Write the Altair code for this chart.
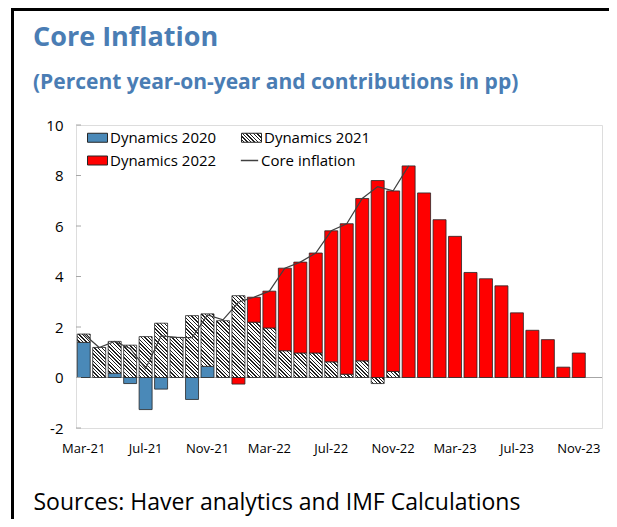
import json
import altair as alt

# ---------------- data ----------------
months = ["Mar-21", "Apr-21", "May-21", "Jun-21", "Jul-21", "Aug-21", "Sep-21", "Oct-21",
          "Nov-21", "Dec-21", "Jan-22", "Feb-22", "Mar-22", "Apr-22", "May-22", "Jun-22",
          "Jul-22", "Aug-22", "Sep-22", "Oct-22", "Nov-22", "Dec-22", "Jan-23", "Feb-23",
          "Mar-23", "Apr-23", "May-23", "Jun-23", "Jul-23", "Aug-23", "Sep-23", "Oct-23",
          "Nov-23", "Dec-23"]
tick_labels = ["Mar-21", "Jul-21", "Nov-21", "Mar-22", "Jul-22", "Nov-22", "Mar-23", "Jul-23", "Nov-23"]
y_ticks = [-2, 0, 2, 4, 6, 8, 10]
series_names = ["Dynamics 2020", "Dynamics 2021", "Dynamics 2022"]
line_name = "Core inflation"

# Mar-21 .. Dec-22
dyn2020 = [1.39, 0.00, 0.17, -0.24, -1.27, -0.46, 0.00, -0.87, 0.44, 0.00, 0.00,
           0.00, 0.00, 0.00, 0.00, 0.00, 0.00, 0.00, 0.00, 0.00, 0.00, 0.00]
dyn2021 = [0.33, 1.19, 1.26, 1.28, 1.62, 2.15, 1.59, 2.45, 2.08, 2.25, 3.24,
           2.19, 1.96, 1.06, 0.97, 0.97, 0.62, 0.13, 0.66, -0.24, 0.24, 0.00]
# Mar-21 .. Nov-23
dyn2022 = [0.00, 0.00, 0.00, 0.00, 0.00, 0.00, 0.00, 0.00, 0.00, 0.00, -0.26,
           0.99, 1.46, 3.27, 3.60, 3.96, 5.19, 5.96, 6.43, 7.80, 7.15, 8.38,
           7.31, 6.25, 5.59, 4.16, 3.91, 3.63, 2.56, 1.87, 1.50, 0.41, 0.97]
# Mar-21 .. Dec-22
core = [1.72, 1.19, 1.43, 1.15, 0.35, 1.65, 1.59, 1.58, 2.48, 2.28, 2.98,
        3.18, 3.42, 4.33, 4.57, 4.93, 5.81, 6.09, 7.09, 7.56, 7.39, 8.38]

# ---------------- style ----------------
FONT = "Open Sans"
BLUE = "#4a89b8"
RED = "#ff0000"
EDGE = "#262626"
TITLE_COLOR = "#4a7db4"
W, H = 526, 303
PX_PER_UNIT = H / 12.0
BAR_W = 13.0


def hatch(w, h, d=3.6, lw=1.4):
    """Diagonal (\\) hatch as a bbox-relative linear gradient."""
    r = h / w
    a = (1 + r) / (1 + r * r)
    total = w + h
    stops = [{"offset": 0, "color": "#ffffff"}]
    c = d / 2.0
    while c < total:
        o1 = round(c / total, 4)
        o2 = round(min((c + lw) / total, 1.0), 4)
        stops += [{"offset": o1, "color": "#ffffff"}, {"offset": o1, "color": "#202020"},
                  {"offset": o2, "color": "#202020"}, {"offset": o2, "color": "#ffffff"}]
        c += d
    stops.append({"offset": 1, "color": "#ffffff"})
    return {"gradient": "linear", "x1": 0, "y1": 1,
            "x2": round(a, 4), "y2": round(1 - a * r, 4), "stops": stops}


colors = [BLUE, None, RED]
bars = []
for i, m in enumerate(months):
    for k, arr in enumerate([dyn2020, dyn2021, dyn2022]):
        if i < len(arr) and arr[i] != 0:
            v = arr[i]
            fill = hatch(BAR_W, abs(v) * PX_PER_UNIT) if k == 1 else colors[k]
            bars.append({"month": m, "series": series_names[k], "value": v, "ord": k, "fill": fill})

line_rows = [{"month": months[i], "core": v, "name": line_name} for i, v in enumerate(core)]

legend_hatch = alt.ExprRef(expr=json.dumps(hatch(20, 9)))

# ---------------- scales / axes ----------------
xscale = alt.Scale(domain=months, paddingInner=0.16, paddingOuter=0.08)
yscale = alt.Scale(domain=[-2, 10], nice=False, zero=False)

xaxis = alt.Axis(values=tick_labels, labelAngle=0, ticks=False, tickSize=0, domain=False, grid=False,
                 labelFont=FONT, labelFontSize=13, labelColor="black", labelPadding=14,
                 title="Sources: Haver analytics and IMF Calculations",
                 titleFont=FONT, titleFontSize=23, titleFontWeight="normal", titleColor="black",
                 titleX=-43, titleY=81, titleAlign="left", titleBaseline="alphabetic", titleAngle=0)
yaxis = alt.Axis(values=y_ticks, ticks=False, tickSize=0, domain=False, grid=False,
                 labelExpr="'' + datum.value",
                 labelFont=FONT, labelFontSize=15, labelColor="black", labelPadding=13, title=None)

X = alt.X("month:N", scale=xscale, sort=months, axis=xaxis)

# ---------------- layers ----------------
frame_data = alt.Data(values=[{"k": 0}])
frame_left = alt.Chart(frame_data).mark_rule(color="black", strokeWidth=3).encode(
    x=alt.value(-63.5), y=alt.value(-117), y2=alt.value(400))
frame_top = alt.Chart(frame_data).mark_rule(color="black", strokeWidth=3).encode(
    x=alt.value(-65), x2=alt.value(540), y=alt.value(-115.5))

zero_rule = alt.Chart(alt.Data(values=[{"z": 0}])).mark_rule(color="#a6a6a6", strokeWidth=1).encode(
    y=alt.Y("z:Q", scale=yscale, axis=yaxis))

bar_layer = alt.Chart(alt.Data(values=bars)).mark_bar(stroke=EDGE, strokeWidth=0.8, aria=False).encode(
    x=X,
    y=alt.Y("value:Q", stack="zero", scale=yscale, axis=yaxis),
    fill=alt.Fill("fill:N", scale=None),
    order=alt.Order("ord:Q"),
)

# legend entries are laid out column by column: 2020, 2022 | 2021
legend_domain = [series_names[0], series_names[2], series_names[1]]
legend_range = [BLUE, RED, legend_hatch]
legend_layer = alt.Chart(alt.Data(values=bars)).transform_filter("false").mark_bar(
    stroke=EDGE, strokeWidth=1).encode(
    x=X,
    y=alt.Y("value:Q", scale=yscale, axis=yaxis),
    color=alt.Color("series:N",
                    scale=alt.Scale(domain=legend_domain, range=legend_range),
                    legend=alt.Legend(orient="none", legendX=11, legendY=2, columns=2,
                                      columnPadding=22, rowPadding=4, title=None, padding=0,
                                      symbolType="M-1,-0.45H1V0.45H-1Z", symbolSize=400,
                                      symbolStrokeColor=EDGE, symbolStrokeWidth=1,
                                      labelFont=FONT, labelFontSize=15, labelColor="black",
                                      labelOffset=2, labelLimit=300)),
)

line_layer = alt.Chart(alt.Data(values=line_rows)).mark_line(strokeWidth=1.2).encode(
    x=X,
    y=alt.Y("core:Q", scale=yscale, axis=yaxis),
    stroke=alt.Stroke("name:N", scale=alt.Scale(domain=[line_name], range=["#404040"]),
                      legend=alt.Legend(orient="none", legendX=164, legendY=26, title=None, padding=0,
                                        symbolType="stroke", symbolSize=300, symbolStrokeWidth=1.5,
                                        labelFont=FONT, labelFontSize=15, labelColor="black",
                                        labelOffset=2, labelLimit=300)),
)

tick_layer = alt.Chart(alt.Data(values=[{"t": t} for t in y_ticks])).mark_rule(
    color="#a6a6a6", strokeWidth=1).encode(
    x=alt.value(0), x2=alt.value(5),
    y=alt.Y("t:Q", scale=yscale, axis=yaxis))

chart = alt.layer(
    frame_left, frame_top, zero_rule, bar_layer, line_layer, tick_layer, legend_layer
).properties(
    width=W, height=H,
    title=alt.TitleParams("Core Inflation",
                          subtitle="(Percent year-on-year and contributions in pp)",
                          anchor="start", frame="group", dx=-43, offset=-87,
                          font=FONT, fontSize=27, fontWeight="bold", color=TITLE_COLOR,
                          subtitleFont=FONT, subtitleFontSize=21, subtitleFontWeight="bold",
                          subtitleColor=TITLE_COLOR, subtitlePadding=20),
    autosize=alt.AutoSizeParams(type="none"),
    padding={"left": 68, "top": 117, "right": 7, "bottom": 91},
).configure_view(
    stroke="#b0b0b0", strokeWidth=1.5
).configure(background="white")

chart.save("out.html", embed_options={"renderer": "svg", "actions": False})
